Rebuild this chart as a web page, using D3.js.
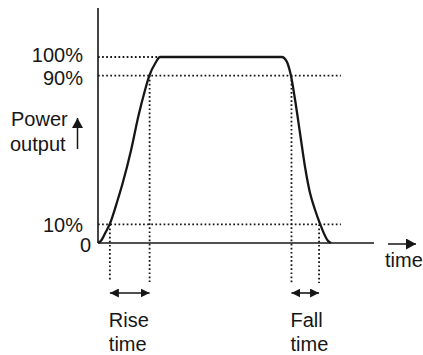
<!DOCTYPE html>
<html><head><meta charset="utf-8">
<script src="https://cdn.jsdelivr.net/npm/d3@7"></script>
<style>html,body{margin:0;padding:0;background:#fff;}svg{display:block;font-family:"Liberation Sans",Arial,Helvetica,sans-serif;}</style>
</head><body>
<svg id="chart" width="423" height="355"></svg>
<script>
// ---- data ----
const timeValues  = [0, 1.3, 2.5, 4.35, 7.1, 8.9, 12.0, 14.6, 17.0, 18.6, 20.7, 22.5,
                     66.6, 68.4, 69.9, 71.4, 73.2, 75.0, 76.8, 78.6, 80.4, 83.4, 84.4];
const powerValues = [0, 1.6, 5, 10.5, 23, 32, 50, 68, 82, 90, 96.5, 100,
                     100, 97.5, 90, 77, 59, 41, 27, 18, 10.5, 1, 0];
const levelValues = [100, 90, 10, 0];
const levelLabels = ["100%", "90%", "10%", "0"];
const levelLineEnds = [22.8, 88, 88, null];   // time where dotted level line stops
const edgeTimes  = [4.3, 18.7, 70.1, 80.1];   // rise start, rise end, fall start, fall end
const edgeLevels = [10, 90, 90, 10];
const intervalNames = [["Rise", "time"], ["Fall", "time"]];
const intervalSpans = [[4.3, 18.7], [70.1, 80.1]];
const axisLabelY = ["Power", "output"];
const axisLabelX = "time";

// ---- layout ----
const svg = d3.select("#chart");
const x = d3.scaleLinear().domain([0, 100]).range([98, 374]);
const y = d3.scaleLinear().domain([0, 100]).range([243, 57]);
const ink = "#161616";
const labelShift = [5.3, 9.3, 8, 9];   // baseline offsets of level labels from their level
const labelRight = [83, 83, 83, 91];

const defs = svg.append("defs");
defs.append("marker").attr("id", "head").attr("viewBox", "0 0 10 10")
  .attr("refX", 10).attr("refY", 5).attr("markerWidth", 9).attr("markerHeight", 9)
  .attr("markerUnits", "userSpaceOnUse").attr("orient", "auto-start-reverse")
  .append("path").attr("d", "M0,0 L10,5 L0,10 Z").attr("fill", ink);
defs.append("marker").attr("id", "headBig").attr("viewBox", "0 0 10 10")
  .attr("refX", 10).attr("refY", 5).attr("markerWidth", 10).attr("markerHeight", 11)
  .attr("markerUnits", "userSpaceOnUse").attr("orient", "auto-start-reverse")
  .attr("preserveAspectRatio", "none")
  .append("path").attr("d", "M0,0 L10,5 L0,10 Z").attr("fill", ink);

// dotted level lines
const dot = {"stroke": ink, "stroke-width": 1.8, "stroke-dasharray": "1.7 2.4"};
levelValues.forEach((v, i) => {
  if (levelLineEnds[i] == null) return;
  const l = svg.append("line").attr("x1", x(0)).attr("x2", x(levelLineEnds[i]))
    .attr("y1", y(v)).attr("y2", y(v));
  Object.entries(dot).forEach(([k, val]) => l.attr(k, val));
});
// dotted vertical lines
edgeTimes.forEach((t, i) => {
  const l = svg.append("line").attr("x1", x(t)).attr("x2", x(t))
    .attr("y1", y(edgeLevels[i])).attr("y2", y(0) + 38 + (i >= 2 ? 2 : i));
  Object.entries(dot).forEach(([k, val]) => l.attr(k, val));
});

// axes
svg.append("line").attr("x1", x(0)).attr("x2", x(0)).attr("y1", 8).attr("y2", y(0))
  .attr("stroke", ink).attr("stroke-width", 1.6);
svg.append("line").attr("x1", x(0)).attr("x2", x(100)).attr("y1", y(0)).attr("y2", y(0))
  .attr("stroke", ink).attr("stroke-width", 1.6);

// power curve
const pts = timeValues.map((t, i) => [t, powerValues[i]]);
svg.append("path").datum(pts)
  .attr("d", d3.line().x(d => x(d[0])).y(d => y(d[1])).curve(d3.curveMonotoneX))
  .attr("fill", "none").attr("stroke", ink).attr("stroke-width", 2.3).attr("stroke-linejoin", "round");

// level labels
levelValues.forEach((v, i) => {
  svg.append("text").attr("x", labelRight[i]).attr("y", y(v) + labelShift[i])
    .attr("text-anchor", "end")
    .attr("font-size", 20).attr("fill", ink).text(levelLabels[i]);
});

// y axis label + arrow
axisLabelY.forEach((s, i) => {
  svg.append("text").attr("x", i === 0 ? 11 : 10).attr("y", 126 + i * 25)
    .attr("font-size", 20).attr("fill", ink).text(s);
});
svg.append("line").attr("x1", 77.5).attr("x2", 77.5).attr("y1", 149).attr("y2", 118)
  .attr("stroke", ink).attr("stroke-width", 1.5).attr("marker-end", "url(#headBig)");

// x axis label + arrow
svg.append("text").attr("x", 385).attr("y", 267).attr("font-size", 20).attr("fill", ink).text(axisLabelX);
svg.append("line").attr("x1", 388).attr("x2", 416).attr("y1", 244).attr("y2", 244)
  .attr("stroke", ink).attr("stroke-width", 1.5).attr("marker-end", "url(#headBig)");

// interval arrows + labels
intervalSpans.forEach((span, i) => {
  svg.append("line").attr("x1", x(span[0])).attr("x2", x(span[1])).attr("y1", 293).attr("y2", 293)
    .attr("stroke", ink).attr("stroke-width", 1.6)
    .attr("marker-start", "url(#head)").attr("marker-end", "url(#head)");
  intervalNames[i].forEach((s, j) => {
    svg.append("text").attr("x", x(span[0]) - 1).attr("y", 327 + j * 23.5)
      .attr("font-size", 20).attr("fill", ink).text(s);
  });
});
</script>
</body></html>
